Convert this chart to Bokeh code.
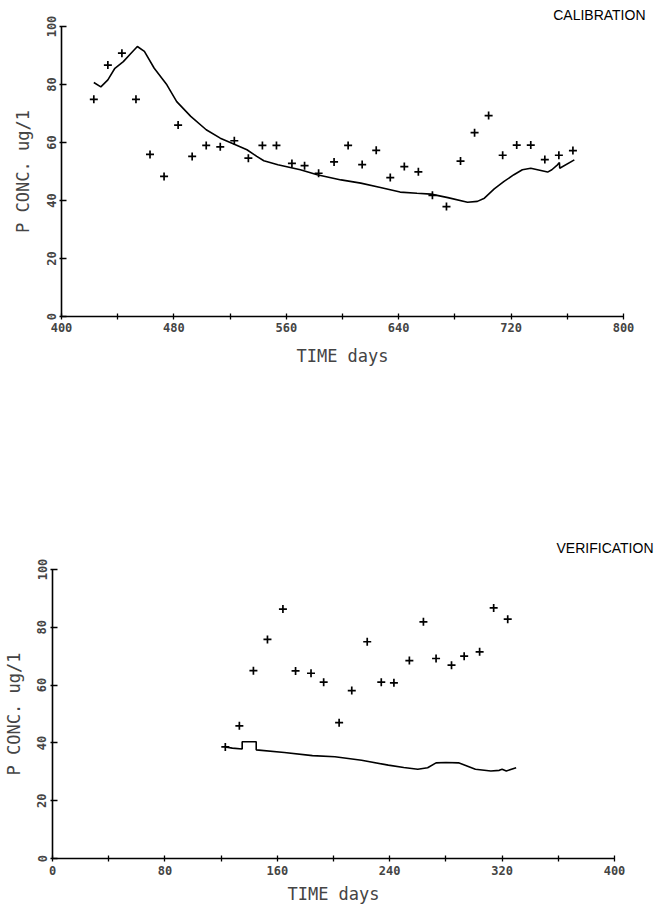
from bokeh.plotting import figure
from bokeh.layouts import column, row
from bokeh.models import Range1d, FixedTicker
from bokeh.embed import file_html
from bokeh.resources import INLINE

# ---- data: calibration ----
cal_obs_day = [423, 433, 443, 453, 463, 473, 483, 493, 503, 513, 523, 533, 543, 553, 564, 573, 583,
               594, 604, 614, 624, 634, 644, 654, 664, 674, 684, 694, 704, 714, 724, 734, 744, 754, 764]
cal_obs_val = [74.9, 86.7, 90.8, 74.9, 55.9, 48.3, 66.0, 55.2, 59.0, 58.5, 60.6, 54.6, 59.0, 59.0, 52.8, 52.0, 49.4,
               53.3, 59.0, 52.4, 57.3, 47.9, 51.7, 49.9, 41.8, 37.9, 53.6, 63.4, 69.3, 55.6, 59.1, 59.1, 54.1, 55.6, 57.2]

cal_mod_day = [423, 428, 433, 438, 444, 449, 454, 459, 466, 475, 482, 492, 503, 513, 523, 532, 539, 544, 554,
               570, 582, 599, 613, 627, 641, 653, 663, 675, 689, 696, 701, 708, 715, 722, 728, 734, 746, 749,
               753, 754.4, 754.6, 765]
cal_mod_val = [80.7, 79.2, 81.6, 85.6, 87.9, 90.5, 93.1, 91.4, 85.6, 79.9, 74.1, 69.0, 64.4, 61.5, 59.4, 57.5, 55.2,
               53.7, 52.3, 50.6, 48.9, 47.1, 46.0, 44.5, 42.9, 42.5, 42.2, 41.0, 39.4, 39.7, 40.8, 44.0, 46.6,
               48.9, 50.6, 51.1, 49.8, 50.6, 52.3, 53.1, 51.1, 54.0]

cal_x_ticks = [400, 480, 560, 640, 720, 800]
cal_x_minor = [440, 520, 600, 680, 760]

# ---- data: verification ----
ver_obs_day = [123, 133, 143, 153, 164, 173, 184, 193, 204, 213, 224, 234, 243, 254, 264, 273, 284, 293, 304, 314, 324]
ver_obs_val = [38.6, 45.9, 65.0, 75.8, 86.3, 64.9, 64.1, 61.0, 47.0, 58.1, 75.0, 61.0, 60.8, 68.5, 81.9, 69.2,
               66.9, 70.0, 71.5, 86.7, 82.8]

ver_mod_day = [123, 128, 135, 135, 145, 145, 165, 185, 201, 220, 239, 250, 260, 267, 273, 280, 289, 295, 301,
               312, 318, 320, 323, 330]
ver_mod_val = [38.6, 38.2, 37.9, 40.4, 40.4, 37.6, 36.7, 35.6, 35.2, 34.0, 32.3, 31.5, 30.9, 31.4, 33.1, 33.2,
               33.1, 32.0, 30.9, 30.3, 30.5, 30.9, 30.3, 31.4]

ver_x_ticks = [0, 80, 160, 240, 320, 400]
ver_x_minor = [40, 120, 200, 280, 360]

y_ticks = [0, 20, 40, 60, 80, 100]

MONO = "DejaVu Sans Mono"


def make(title, xr, xt, xm, od, ov, md, mv, left, right, top, bottom, fh, toff, tstand, xstand, xlstand):
    p = figure(frame_width=562, frame_height=fh, x_range=Range1d(*xr), y_range=Range1d(0, 100),
               output_backend="svg", toolbar_location=None,
               min_border_left=left, min_border_right=right, min_border_top=top, min_border_bottom=bottom)
    p.outline_line_color = None
    p.xgrid.visible = False
    p.ygrid.visible = False
    p.background_fill_color = "white"
    p.border_fill_color = "white"

    p.title.text = title
    p.title.align = "right"
    p.title.offset = toff
    p.title.standoff = tstand
    p.title.text_font = "Liberation Sans"
    p.title.text_font_size = "14px"
    p.title.text_font_style = "normal"
    p.title.text_color = "black"

    xa = p.xaxis[0]
    xa.ticker = FixedTicker(ticks=xt, minor_ticks=xm)
    xa.axis_label = "TIME days"
    xa.axis_line_width = 1.6
    xa.axis_line_color = "black"
    xa.major_tick_in = 3
    xa.major_tick_out = 3
    xa.minor_tick_in = 3
    xa.minor_tick_out = 3
    xa.major_tick_line_width = 1.3
    xa.minor_tick_line_width = 1.3
    xa.major_label_text_font = MONO
    xa.major_label_text_font_size = "12px"
    xa.major_label_text_font_style = "bold"
    xa.major_label_standoff = xstand
    xa.axis_label_text_font = MONO
    xa.axis_label_text_font_size = "17px"
    xa.axis_label_text_font_style = "normal"
    xa.axis_label_standoff = xlstand

    ya = p.yaxis[0]
    ya.ticker = FixedTicker(ticks=y_ticks)
    ya.axis_label = "P CONC. ug/1"
    ya.axis_line_width = 1.6
    ya.axis_line_color = "black"
    ya.major_tick_in = 5
    ya.major_tick_out = 2
    ya.minor_tick_line_color = None
    ya.major_tick_line_width = 1.3
    ya.major_label_orientation = "parallel"
    ya.major_label_text_font = MONO
    ya.major_label_text_font_size = "12px"
    ya.major_label_text_font_style = "bold"
    ya.major_label_standoff = 4
    ya.axis_label_text_font = MONO
    ya.axis_label_text_font_size = "17px"
    ya.axis_label_text_font_style = "normal"
    ya.axis_label_standoff = 11

    p.line(md, mv, line_color="black", line_width=1.6)
    p.scatter(od, ov, marker="cross", size=8, line_color="black", line_width=1.7)
    return p


p1 = make("CALIBRATION", (400, 800), cal_x_ticks, cal_x_minor, cal_obs_day, cal_obs_val,
          cal_mod_day, cal_mod_val, 61, 34, 25, 139, 290, -22, 8, 3, 11)
p2 = make("VERIFICATION", (0, 400), ver_x_ticks, ver_x_minor, ver_obs_day, ver_obs_val,
          ver_mod_day, ver_mod_val, 51, 44, 114, 51, 289, -39, 28, 4, 6)

layout = column(row(p1), row(p2), spacing=0)
open("out.html", "w").write(file_html(layout, INLINE))
